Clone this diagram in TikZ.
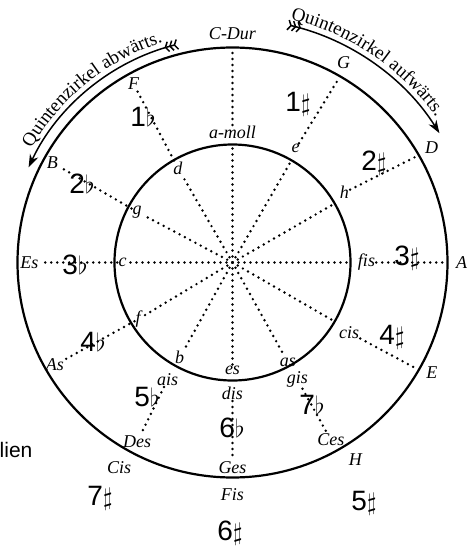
\documentclass[tikz,border=0pt]{standalone}
\usepackage{fontspec}
\setmainfont{Liberation Serif}
\newfontfamily\handfont{Liberation Sans}
\usetikzlibrary{arrows.meta,decorations.text}

\begin{document}
\begin{tikzpicture}[x=1pt,y=1pt,
  ring/.style={line width=2.2pt},
  dots/.style={line width=2.7pt,dash pattern=on 0pt off 6pt,line cap=round},
  tonart/.style={font=\fontsize{18}{18}\selectfont\itshape,inner sep=1pt},
  hand/.style={font=\handfont\fontsize{28}{28}\selectfont,inner sep=0pt},
  turn/.style={line width=1.5pt,arrows={Straight Barb[reversed,length=3pt,width=10pt] Straight Barb[reversed,length=3pt,width=10pt] Straight Barb[reversed,length=3pt,width=10pt]-Stealth[length=13pt,width=9pt]}}]
\useasboundingbox (-232.5,-284.5) rectangle (239.5,262.5);
\coordinate (O) at (0,0);
\draw[ring] (O) circle[radius=215];
\draw[ring] (O) circle[radius=118];
% Dur (outer ring)
\node[tonart] (C) at (90:229) {C-Dur};
\node[tonart] (G) at (61:229) {G};
\node[tonart] (D) at (30:230) {D};
\node[tonart] (A) at (0:229) {A};
\node[tonart] (E) at (-29:228) {E};
\node[tonart] (H) at (-58:232) {H};
\node[tonart] (Fis) at (-90:232) {Fis};
\node[tonart] (Cis) at (-119:234) {Cis};
\node[tonart] (Ces) at (-61:203) {Ces};
\node[tonart] (Ges) at (-90:205) {Ges};
\node[tonart] (Des) at (-118:203) {Des};
\node[tonart] (As) at (-150:205) {As};
\node[tonart] (Es) at (180:203) {Es};
\node[tonart] (B) at (151:206) {B};
\node[tonart] (F) at (119:204) {F};
% moll (inner ring)
\node[tonart] (am) at (90:130) {a-moll};
\node[tonart] (e) at (61:130) {e};
\node[tonart] (h) at (32:132) {h};
\node[tonart] (fis) at (0:134) {fis};
\node[tonart] (cis) at (-31:136) {cis};
\node[tonart] (gis) at (-61:134) {gis};
\node[tonart] (dis) at (-90:131) {dis};
\node[tonart] (ais) at (-119:134) {ais};
\node[tonart] (d) at (120:109) {d};
\node[tonart] (g) at (152:108) {g};
\node[tonart] (c) at (180:110) {c};
\node[tonart] (f) at (-149:110) {f};
\node[tonart] (b) at (-119:109) {b};
\node[tonart] (es) at (-90:108) {es};
\node[tonart] (as) at (-61:114) {as};
\coordinate (r90) at (90:116);
\coordinate (r60) at (60:116);
\coordinate (r30) at (30:116);
\coordinate (r0) at (0:116);
\coordinate (r330) at (-30:116);
\coordinate (R90) at (90:211);
\coordinate (R60) at (60:211);
\coordinate (R30) at (30:211);
\coordinate (R0) at (0:211);
\coordinate (R330) at (-30:211);
% spokes
\draw[dots] (O) -- (r90);
\draw[dots] (O) -- (r60);
\draw[dots] (O) -- (r30);
\draw[dots] (O) -- (r0);
\draw[dots] (O) -- (r330);
\draw[dots] (O) -- (as);
\draw[dots] (O) -- (es);
\draw[dots] (O) -- (b);
\draw[dots] (O) -- (f);
\draw[dots] (O) -- (c);
\draw[dots] (O) -- (g);
\draw[dots] (O) -- (d);
\draw[dots] (am) -- (R90);
\draw[dots] (e) -- (R60);
\draw[dots] (h) -- (R30);
\draw[dots] (fis) -- (R0);
\draw[dots] (cis) -- (R330);
\draw[dots] (gis) -- (Ces);
\draw[dots] (dis) -- (Ges);
\draw[dots] (ais) -- (Des);
\draw[dots] (f) -- (As);
\draw[dots] (c) -- (Es);
\draw[dots] (g) -- (B);
\draw[dots] (d) -- (F);
% direction arrows
\draw[turn] (104:225) arc[start angle=104,end angle=155,radius=225];
\draw[turn] (77:244) arc[start angle=77,end angle=32,radius=244];
\path[decorate,decoration={text along path,text align=center,
  text={|\fontsize{19}{19}\selectfont|Quintenzirkel abwärts.}}]
  (160:231) arc[start angle=160,end angle=98,radius=231];
\path[decorate,decoration={text along path,text align=center,
  text={|\fontsize{19}{19}\selectfont|Quintenzirkel aufwärts.}}]
  (86:250) arc[start angle=86,end angle=26,radius=250];
% pencil notes
\node[hand] (n1b) at (-89.5,145.5) {1$\flat$};
\node[hand] (n1s) at (65.5,158.5) {1$\sharp$};
\node[hand] (n2s) at (141.5,99.5) {2$\sharp$};
\node[hand] (n2b) at (-150.5,78.5) {2$\flat$};
\node[hand] (n3b) at (-157.5,-2.5) {3$\flat$};
\node[hand] (n3s) at (174.5,4.5) {3$\sharp$};
\node[hand] (n4s) at (159.5,-74.5) {4$\sharp$};
\node[hand] (n4b) at (-139.5,-79.5) {4$\flat$};
\node[hand] (n5b) at (-85.5,-134.5) {5$\flat$};
\node[hand] (n6b) at (-0.5,-165.5) {6$\flat$};
\node[hand] (n7b) at (79.5,-142.5) {7$\flat$};
\node[hand] (n7s) at (-132.5,-235.5) {7$\sharp$};
\node[hand] (n6s) at (-2.5,-270.5) {6$\sharp$};
\node[hand] (n5s) at (131.5,-240.5) {5$\sharp$};
\node[anchor=west,inner sep=0pt,font=\handfont\fontsize{21}{21}\selectfont] (lien) at (-233,-187.5) {lien};
\end{tikzpicture}
\end{document}
